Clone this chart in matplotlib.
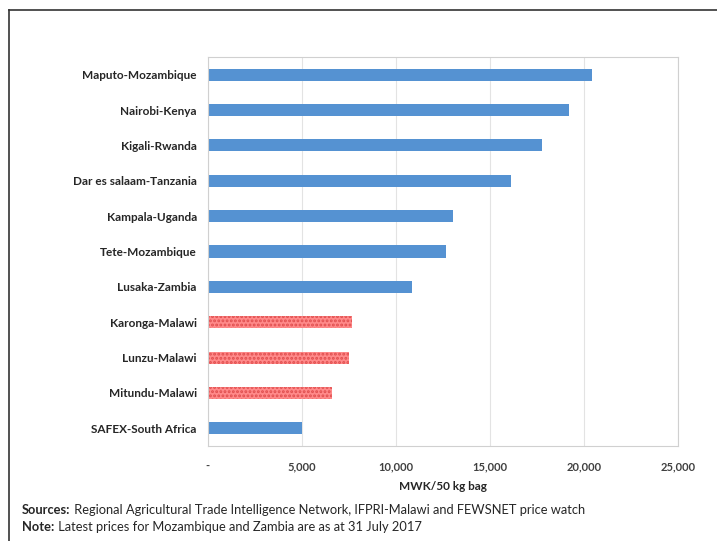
import matplotlib.pyplot as plt
from matplotlib.lines import Line2D
from matplotlib.ticker import FuncFormatter

# Maize prices by market (MWK per 50 kg bag)
markets = ['Maputo-Mozambique', 'Nairobi-Kenya', 'Kigali-Rwanda', 'Dar es salaam-Tanzania',
           'Kampala-Uganda', 'Tete-Mozambique', 'Lusaka-Zambia', 'Karonga-Malawi',
           'Lunzu-Malawi', 'Mitundu-Malawi', 'SAFEX-South Africa']
prices = [20430, 19200, 17770, 16120, 13030, 12660, 10850, 7660, 7500, 6600, 5000]
is_malawi = [False, False, False, False, False, False, False, True, True, True, False]

xticks = [0, 5000, 10000, 15000, 20000, 25000]

plt.rcParams['font.family'] = ['Lato', 'DejaVu Sans']
plt.rcParams['hatch.linewidth'] = 1.4

fig = plt.figure(figsize=(7.17, 5.41), dpi=100)
ax = fig.add_axes([0.290, 0.1756, 0.6556, 0.719])

ypos = list(range(len(markets)))
for y, p, m in zip(ypos, prices, is_malawi):
    if m:
        ax.barh(y, p, height=0.34, color='#FF8A8A', edgecolor='#E04E4E',
                hatch='....', linewidth=0)
    else:
        ax.barh(y, p, height=0.34, color='#5592D2', linewidth=0)

ax.set_ylim(len(markets) - 0.5, -0.5)
ax.set_yticks(ypos)
ax.set_yticklabels(markets, fontsize=8.5, fontweight='bold', color='#262626')
ax.set_xlim(0, 25000)
ax.set_xticks(xticks)
ax.xaxis.set_major_formatter(FuncFormatter(lambda v, pos: '-' if v == 0 else f'{int(v):,}'))
ax.tick_params(axis='x', labelsize=8, length=0, pad=11, colors='#404040')
ax.tick_params(axis='y', length=0, pad=8)
for lab in ax.get_xticklabels():
    lab.set_fontweight('bold')
ax.set_xlabel('MWK/50 kg bag', fontsize=8.5, fontweight='bold', color='#262626', labelpad=6)

ax.grid(axis='x', color='#E3E3E3', linewidth=0.8)
ax.set_axisbelow(True)
for s in ax.spines.values():
    s.set_color('#D0D0D0')
    s.set_linewidth(0.8)

# footnotes: bold lead word followed by regular text
renderer = fig.canvas.get_renderer()
notes = [('Sources:', ' Regional Agricultural Trade Intelligence Network, IFPRI-Malawi and FEWSNET price watch', 0.058),
         ('Note:', ' Latest prices for Mozambique and Zambia are as at 31 July 2017', 0.026)]
for head, body, yy in notes:
    t = fig.text(0.031, yy, head, fontsize=9.3, fontweight='bold', color='#262626', va='center')
    bb = t.get_window_extent(renderer=renderer)
    x1 = fig.transFigure.inverted().transform((bb.x1, bb.y0))[0]
    fig.text(x1, yy, body, fontsize=9.3, color='#262626', va='center')

# outer frame lines (top and left)
fig.add_artist(Line2D([0.012, 1.0], [0.982, 0.982], transform=fig.transFigure, color='#333333', linewidth=1.2))
fig.add_artist(Line2D([0.013, 0.013], [0.0, 0.982], transform=fig.transFigure, color='#333333', linewidth=1.2))

fig.savefig('out.png', dpi=100)
